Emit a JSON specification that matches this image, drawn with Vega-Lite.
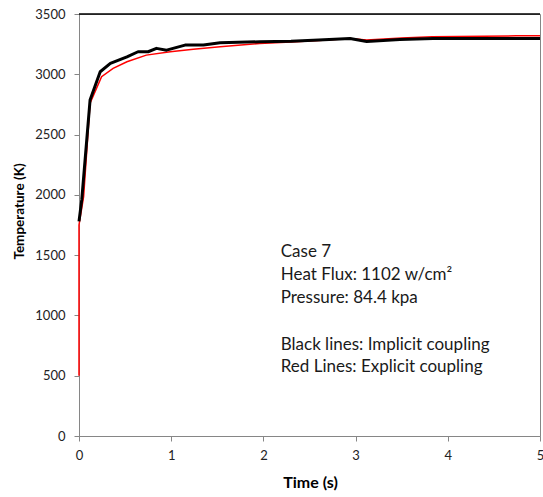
{
  "$schema": "https://vega.github.io/schema/vega-lite/v6.json",
  "width": 461,
  "height": 422,
  "autosize": "none",
  "padding": {"left": 79, "top": 14, "right": 3, "bottom": 61},
  "background": "white",
  "config": {
    "view": {"stroke": "#868686", "strokeWidth": 1},
    "font": "Lato",
    "axis": {"grid": false, "domainColor": "#868686", "tickColor": "#868686", "labelFont": "Lato", "labelFontSize": 13, "labelColor": "#222", "labelFlush": false, "titleFont": "Lato", "titleFontWeight": "bold", "titleColor": "black"}
  },
  "datasets": {
    "curves": [
      {"series": "Explicit", "i": 0, "t": 0, "T": 500},
      {"series": "Explicit", "i": 1, "t": 0, "T": 1750},
      {"series": "Explicit", "i": 2, "t": 0.05, "T": 1984},
      {"series": "Explicit", "i": 3, "t": 0.12, "T": 2760},
      {"series": "Explicit", "i": 4, "t": 0.245, "T": 2980},
      {"series": "Explicit", "i": 5, "t": 0.37, "T": 3049},
      {"series": "Explicit", "i": 6, "t": 0.52, "T": 3104},
      {"series": "Explicit", "i": 7, "t": 0.73, "T": 3159},
      {"series": "Explicit", "i": 8, "t": 0.99, "T": 3187},
      {"series": "Explicit", "i": 9, "t": 1.24, "T": 3207},
      {"series": "Explicit", "i": 10, "t": 1.53, "T": 3228},
      {"series": "Explicit", "i": 11, "t": 1.96, "T": 3256},
      {"series": "Explicit", "i": 12, "t": 2.3, "T": 3268},
      {"series": "Explicit", "i": 13, "t": 2.6, "T": 3280},
      {"series": "Explicit", "i": 14, "t": 2.94, "T": 3297},
      {"series": "Explicit", "i": 15, "t": 3.12, "T": 3285},
      {"series": "Explicit", "i": 16, "t": 3.5, "T": 3300},
      {"series": "Explicit", "i": 17, "t": 3.83, "T": 3311},
      {"series": "Explicit", "i": 18, "t": 4.74, "T": 3319},
      {"series": "Explicit", "i": 19, "t": 5.0, "T": 3319},
      {"series": "Implicit", "i": 0, "t": 0, "T": 1780},
      {"series": "Implicit", "i": 1, "t": 0.03, "T": 1960},
      {"series": "Implicit", "i": 2, "t": 0.12, "T": 2786},
      {"series": "Implicit", "i": 3, "t": 0.23, "T": 3021},
      {"series": "Implicit", "i": 4, "t": 0.34, "T": 3090},
      {"series": "Implicit", "i": 5, "t": 0.52, "T": 3145},
      {"series": "Implicit", "i": 6, "t": 0.64, "T": 3187},
      {"series": "Implicit", "i": 7, "t": 0.75, "T": 3187},
      {"series": "Implicit", "i": 8, "t": 0.84, "T": 3215},
      {"series": "Implicit", "i": 9, "t": 0.95, "T": 3200},
      {"series": "Implicit", "i": 10, "t": 1.15, "T": 3242},
      {"series": "Implicit", "i": 11, "t": 1.35, "T": 3242},
      {"series": "Implicit", "i": 12, "t": 1.53, "T": 3261},
      {"series": "Implicit", "i": 13, "t": 1.96, "T": 3270},
      {"series": "Implicit", "i": 14, "t": 2.3, "T": 3275},
      {"series": "Implicit", "i": 15, "t": 2.6, "T": 3285},
      {"series": "Implicit", "i": 16, "t": 2.94, "T": 3297},
      {"series": "Implicit", "i": 17, "t": 3.12, "T": 3272},
      {"series": "Implicit", "i": 18, "t": 3.48, "T": 3289},
      {"series": "Implicit", "i": 19, "t": 3.84, "T": 3297},
      {"series": "Implicit", "i": 20, "t": 4.3, "T": 3297},
      {"series": "Implicit", "i": 21, "t": 5.0, "T": 3297}
    ],
    "notes": [
      {"label": "Case 7", "t": 2.188, "T": 1528},
      {"label": "Heat Flux: 1102 w/cm²", "t": 2.188, "T": 1335},
      {"label": "Pressure: 84.4 kpa", "t": 2.188, "T": 1144},
      {"label": "Black lines: Implicit coupling", "t": 2.188, "T": 755},
      {"label": "Red Lines: Explicit coupling", "t": 2.188, "T": 575}
    ]
  },
  "layer": [
    {
      "data": {"name": "curves"},
      "transform": [{"filter": "datum.series === 'Explicit'"}],
      "mark": {"type": "line", "color": "#ff0000", "strokeWidth": 1.5},
      "encoding": {
        "x": {"field": "t", "type": "quantitative", "scale": {"domain": [0, 5], "nice": false}, "axis": {"title": "Time (s)", "format": "d", "values": [0, 1, 2, 3, 4, 5], "tickSize": 5, "labelPadding": 8, "titleFontSize": 16, "titleX": 231, "titleY": 46, "titleBaseline": "middle", "titleAlign": "center"}},
        "y": {"field": "T", "type": "quantitative", "scale": {"domain": [0, 3500], "nice": false}, "axis": {"title": "Temperature (K)", "format": "d", "values": [0, 500, 1000, 1500, 2000, 2500, 3000, 3500], "tickSize": 5, "labelPadding": 9, "titleFontSize": 13.5, "titleX": -60, "titleY": 197, "titleAngle": -90, "titleBaseline": "middle", "titleAlign": "center"}},
        "order": {"field": "i", "type": "quantitative"}
      }
    },
    {
      "data": {"name": "curves"},
      "transform": [{"filter": "datum.series === 'Implicit'"}],
      "mark": {"type": "line", "color": "black", "strokeWidth": 3, "strokeJoin": "round"},
      "encoding": {
        "x": {"field": "t", "type": "quantitative"},
        "y": {"field": "T", "type": "quantitative"},
        "order": {"field": "i", "type": "quantitative"}
      }
    },
    {
      "data": {"values": [{"T": 3500}]},
      "mark": {"type": "rule", "color": "black", "strokeWidth": 1.5},
      "encoding": {"y": {"field": "T", "type": "quantitative"}}
    },
    {
      "data": {"name": "notes"},
      "mark": {"type": "text", "align": "left", "baseline": "middle", "fontSize": 17, "font": "Lato", "color": "#1a1a1a"},
      "encoding": {
        "x": {"field": "t", "type": "quantitative"},
        "y": {"field": "T", "type": "quantitative"},
        "text": {"field": "label"}
      }
    }
  ]
}
